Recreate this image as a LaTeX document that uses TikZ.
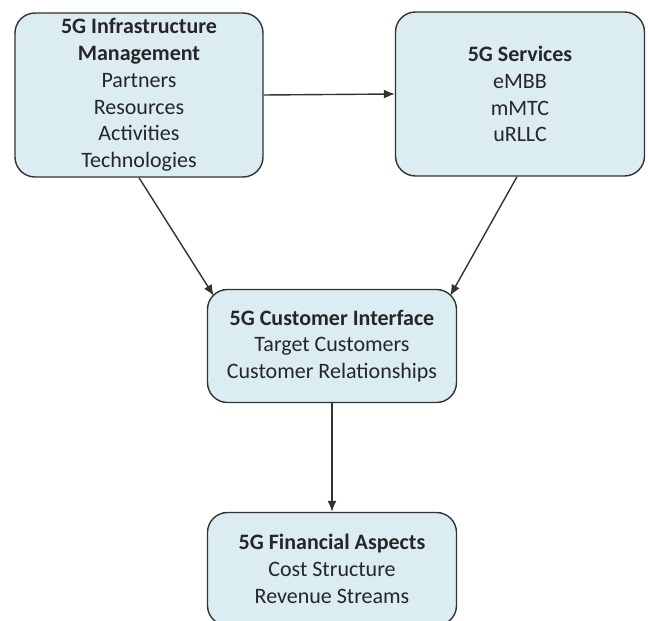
\documentclass[tikz,border=0pt]{standalone}
\usepackage{fontspec}
\setmainfont{Carlito}
\usepackage{tikz}
\usetikzlibrary{arrows.meta}

\definecolor{boxfill}{RGB}{219,236,242}
\definecolor{boxline}{RGB}{51,51,51}

\tikzset{
  block/.style={draw=boxline, line width=1.4pt, fill=boxfill, rounded corners=20pt,
                align=center, inner sep=0pt, text=black!85,
                font=\fontsize{22}{26.8}\selectfont},
  link/.style={draw=boxline, line width=1.4pt, -{Latex[length=11pt,width=9pt]}}
}

\begin{document}
\begin{tikzpicture}[x=1pt,y=-1pt]
\useasboundingbox (0,0) rectangle (648,621);
\begin{scope}
\clip (0,0) rectangle (648,621);

% boxes
\node[block, minimum width=248pt, minimum height=164pt] (infra) at (139,95)
  {\textbf{5G Infrastructure}\\\textbf{Management}\\Partners\\Resources\\Activities\\Technologies};
\node[block, minimum width=249pt, minimum height=164pt] (serv) at (520,94)
  {\textbf{5G Services}\\eMBB\\mMTC\\uRLLC};
\node[block, minimum width=249pt, minimum height=113pt] (cust) at (332,346)
  {\textbf{5G Customer Interface}\\Target Customers\\Customer Relationships};
\node[block, minimum width=249pt, minimum height=113pt] (fin) at (332,569)
  {\textbf{5G Financial Aspects}\\Cost Structure\\Revenue Streams};

% arrows
\draw[link] (infra.east) -- (serv.west);
\draw[link] (infra.south) -- ([shift={(7pt,-7pt)}]cust.north west);
\draw[link] ([xshift=-3pt]serv.south) -- ([shift={(-7pt,-7pt)}]cust.north east);
\draw[link] (cust.south) -- (fin.north);
\end{scope}
\end{tikzpicture}
\end{document}
